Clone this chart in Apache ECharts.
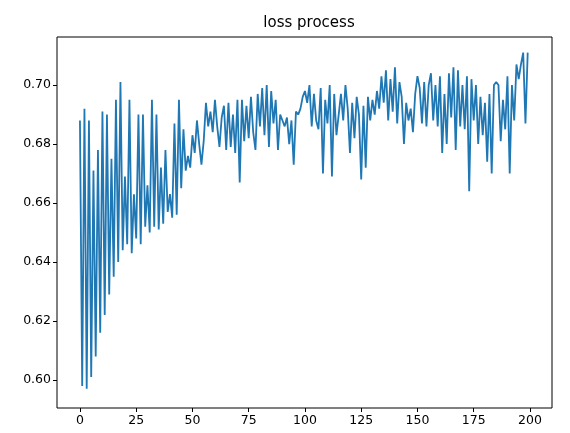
<!DOCTYPE html>
<html><head><meta charset="utf-8">
<script src="https://cdn.jsdelivr.net/npm/echarts@6/dist/echarts.min.js"></script>
<style>html,body{margin:0;padding:0;background:#fff}#c{width:570px;height:433px}</style>
</head><body><div id="c"></div>
<script>
// loss values per step
const loss = [
  .688,.598,.692,.597,.688,.601,.671,.608,.678,.616,.691,.622,.690,.629,.675,.635,.695,.640,.701,.644,
  .669,.646,.695,.643,.663,.648,.690,.646,.690,.652,.666,.650,.695,.652,.690,.651,.672,.653,.678,.657,
  .663,.655,.687,.656,.695,.665,.685,.671,.676,.672,.683,.677,.688,.680,.673,.681,.694,.686,.691,.684,
  .695,.686,.679,.689,.693,.678,.694,.679,.690,.677,.695,.667,.695,.681,.693,.682,.696,.684,.678,.697,
  .686,.699,.683,.700,.679,.698,.687,.695,.678,.690,.688,.686,.689,.680,.688,.673,.691,.690,.692,.696,
  .698,.694,.700,.686,.697,.688,.685,.699,.670,.695,.687,.700,.669,.697,.683,.690,.697,.688,.700,.692,
  .677,.694,.682,.696,.690,.668,.693,.672,.696,.688,.695,.690,.698,.692,.703,.694,.705,.688,.702,.691,
  .706,.687,.701,.696,.680,.694,.688,.692,.684,.697,.703,.699,.687,.701,.686,.700,.704,.688,.700,.686,
  .703,.677,.697,.680,.704,.689,.706,.678,.705,.686,.700,.685,.703,.664,.702,.688,.700,.680,.696,.683,
  .694,.674,.697,.670,.700,.701,.700,.681,.695,.685,.703,.670,.700,.688,.707,.702,.707,.711,.687,.711
];
const xTicks = [0, 25, 50, 75, 100, 125, 150, 175, 200];
const yTicks = [0.60, 0.62, 0.64, 0.66, 0.68, 0.70];

const chart = echarts.init(document.getElementById('c'));
const font = 'DejaVu Sans';
chart.setOption({
  animation: false,
  title: {text: 'loss process', left: 304, top: 11, textAlign: 'center',
    textStyle: {fontFamily: font, fontSize: 15, fontWeight: 'normal', color: '#000'}},
  grid: {left: 57, right: 18, top: 37, bottom: 25, show: true, borderColor: '#000', borderWidth: 1},
  xAxis: {
    type: 'value', min: -10.2, max: 209.8,
    axisLine: {show: false, onZero: false},
    axisTick: {show: true, customValues: xTicks, length: 4, lineStyle: {color: '#000'}},
    axisLabel: {customValues: xTicks, color: '#000', fontFamily: font, fontSize: 12.5, margin: 6},
    splitLine: {show: false}
  },
  yAxis: {
    type: 'value', min: 0.5905, max: 0.7163,
    axisLine: {show: false, onZero: false},
    axisTick: {show: true, customValues: yTicks, length: 4, lineStyle: {color: '#000'}},
    axisLabel: {customValues: yTicks, color: '#000', fontFamily: font, fontSize: 12.5, margin: 6,
      formatter: v => v.toFixed(2)},
    splitLine: {show: false}
  },
  series: [{
    type: 'line', data: loss.map((v, i) => [i, v]), showSymbol: false,
    lineStyle: {color: '#1f77b4', width: 1.8}
  }]
});
</script></body></html>
